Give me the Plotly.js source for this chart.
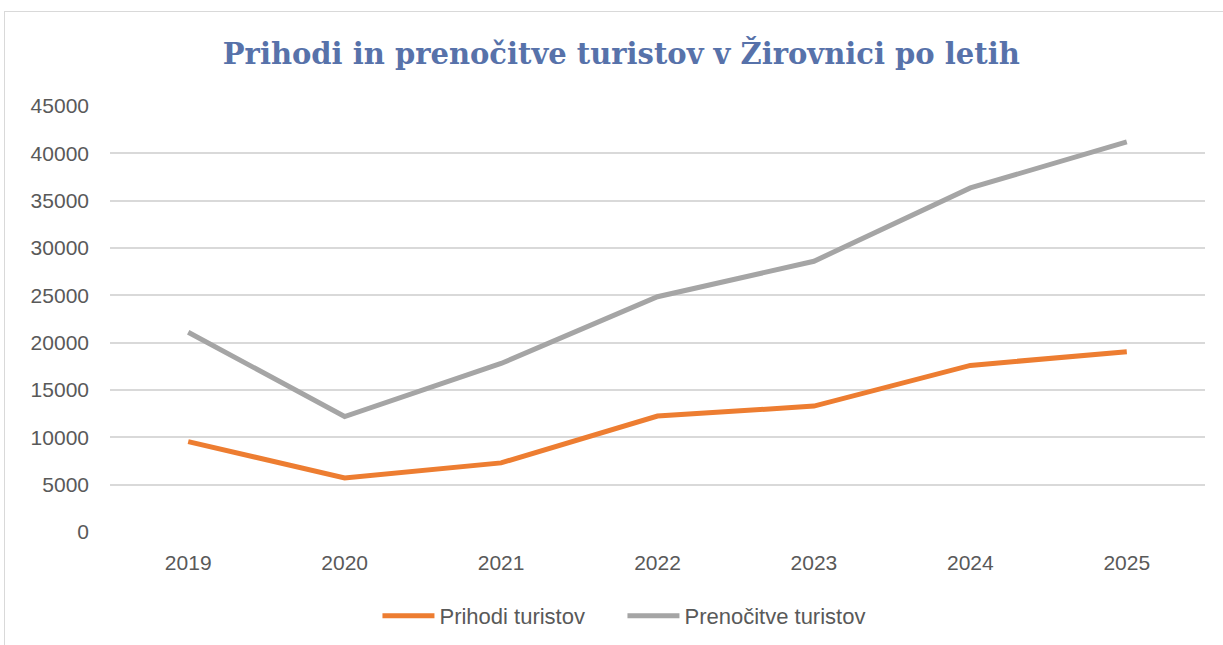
<!DOCTYPE html>
<html>
<head>
<meta charset="utf-8">
<script src="https://cdn.plot.ly/plotly-3.0.1.min.js"></script>
<style>
  html, body { margin: 0; padding: 0; background: #ffffff; overflow: hidden; }
  #frame { position: absolute; left: 4px; top: 11px; width: 1400px; height: 800px; border: 1px solid #d9d9d9; box-sizing: border-box; pointer-events: none; }
  #chart { position: absolute; left: 0; top: 0; width: 1223px; height: 645px; }
</style>
</head>
<body>
<div id="chart"></div>
<div id="frame"></div>
<script>
const years = ["2019", "2020", "2021", "2022", "2023", "2024", "2025"];
const prihodi = [9550, 5700, 7300, 12250, 13300, 17600, 19050];
const prenocitve = [21100, 12200, 17800, 24850, 28600, 36350, 41200];
const seriesNames = ["Prihodi turistov", "Prenočitve turistov"];
const yTicks = [0, 5000, 10000, 15000, 20000, 25000, 30000, 35000, 40000, 45000];

const tickFont = { family: "Liberation Sans", size: 21, color: "#595959" };
const legendFont = { family: "Liberation Sans", size: 22, color: "#595959" };

const traces = [
  { x: years, y: prihodi, name: seriesNames[0], type: "scatter", mode: "lines",
    line: { color: "#ED7D31", width: 5, shape: "linear" }, hoverinfo: "x+y" },
  { x: years, y: prenocitve, name: seriesNames[1], type: "scatter", mode: "lines",
    line: { color: "#A5A5A5", width: 5, shape: "linear" }, hoverinfo: "x+y" }
];

const layout = {
  width: 1223, height: 645,
  margin: { l: 110, r: 18, t: 106, b: 113, autoexpand: false },
  paper_bgcolor: "#ffffff", plot_bgcolor: "#ffffff",
  title: {
    text: "Prihodi in prenočitve turistov v Žirovnici po letih",
    font: { family: "DejaVu Serif", size: 29, color: "#5772AA", weight: "bold" },
    x: 0.508, xanchor: "center", y: 0.916, yanchor: "middle"
  },
  xaxis: {
    type: "category", range: [-0.5, 6.5], fixedrange: true,
    showgrid: false, zeroline: false, showline: false, ticks: "",
    tickfont: tickFont, ticklabelstandoff: 16, automargin: false
  },
  yaxis: {
    range: [0, 45000], tickvals: yTicks, ticktext: yTicks.map(String), fixedrange: true,
    showgrid: true, gridcolor: "#D9D9D9", gridwidth: 1.5, zeroline: false, showline: false,
    ticks: "", tickfont: tickFont, ticklabelstandoff: 20, automargin: false
  },
  showlegend: true,
  legend: {
    orientation: "h", x: 0.468, xanchor: "center", y: -0.197, yanchor: "middle",
    font: legendFont, traceorder: "normal", itemwidth: 52, entrywidth: 178
  }
};

Plotly.newPlot("chart", traces, layout, { displayModeBar: false });
</script>
</body>
</html>
